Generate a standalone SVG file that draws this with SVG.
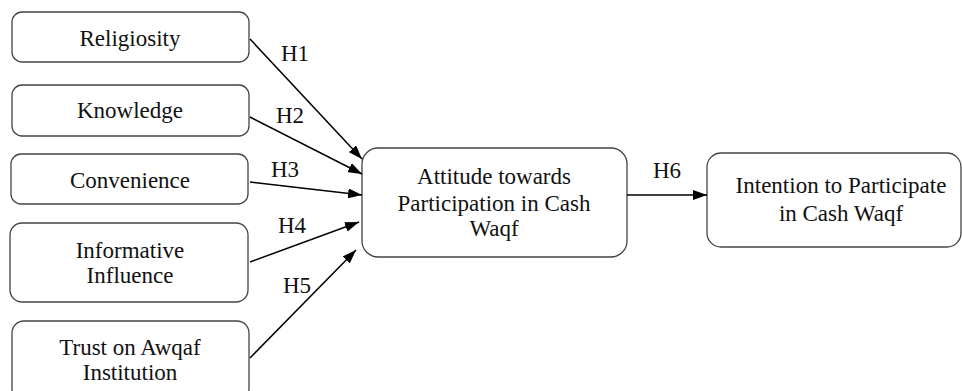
<svg xmlns="http://www.w3.org/2000/svg" width="962" height="391" viewBox="0 0 962 391">
<defs>
<marker id="ah" viewBox="0 0 14 10" refX="14" refY="5" markerWidth="14" markerHeight="10" markerUnits="userSpaceOnUse" orient="auto">
<path d="M0,0 L14,5 L0,10 Z" fill="#000"/>
</marker>
</defs>
<style>
.box{fill:#fff;stroke:#444;stroke-width:1.3}
.t{font-family:'Liberation Serif','DejaVu Serif',serif;font-size:23px;fill:#111;text-anchor:middle}
.c{stroke:#000;stroke-width:1.5;fill:none;marker-end:url(#ah)}
</style>
<rect width="962" height="391" fill="#fff"/>
<g id="religiosity"><rect class="box" x="12" y="12" width="237" height="50" rx="10"/><text class="t" x="130" y="46">Religiosity</text></g>
<g id="knowledge"><rect class="box" x="12" y="85" width="237" height="51" rx="10"/><text class="t" x="130" y="118">Knowledge</text></g>
<g id="convenience"><rect class="box" x="11" y="154" width="237" height="50" rx="10"/><text class="t" x="130" y="188">Convenience</text></g>
<g id="informative"><rect class="box" x="10" y="223" width="238" height="79" rx="12"/><text class="t" x="130" y="258">Informative</text><text class="t" x="130" y="283">Influence</text></g>
<g id="trust"><rect class="box" x="12" y="321" width="237" height="80" rx="12"/><text class="t" x="130" y="355">Trust on Awqaf</text><text class="t" x="130" y="380">Institution</text></g>
<g id="attitude"><rect class="box" x="362" y="148" width="265" height="109" rx="16"/><text class="t" x="494" y="184">Attitude towards</text><text class="t" x="494" y="211">Participation in Cash</text><text class="t" x="494" y="236">Waqf</text></g>
<g id="intention"><rect class="box" x="707" y="153" width="254" height="94" rx="14"/><text class="t" x="841" y="193">Intention to Participate</text><text class="t" x="841" y="221">in Cash Waqf</text></g>
<g id="connectors">
<line class="c" x1="250" y1="39" x2="362" y2="159"/>
<line class="c" x1="250" y1="117" x2="362" y2="174"/>
<line class="c" x1="250" y1="182" x2="362" y2="195"/>
<line class="c" x1="250" y1="262" x2="359" y2="222"/>
<line class="c" x1="250" y1="358" x2="356" y2="250"/>
<line class="c" x1="627" y1="195" x2="707" y2="195"/>
<text class="t" x="295" y="61">H1</text>
<text class="t" x="290" y="123">H2</text>
<text class="t" x="285" y="177">H3</text>
<text class="t" x="292" y="233">H4</text>
<text class="t" x="297" y="293">H5</text>
<text class="t" x="667" y="178">H6</text>
</g>
</svg>
